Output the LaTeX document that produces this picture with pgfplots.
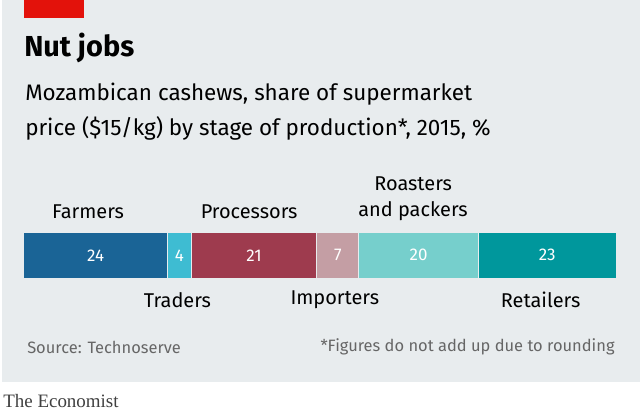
\documentclass[border=0pt]{standalone}
\usepackage{pgfplots}
\pgfplotsset{compat=1.18}
\usepackage{fontspec}
\setmainfont{Fira Sans}
\newfontfamily\serif{Liberation Serif}
\definecolor{bg}{HTML}{E8ECEE}
\definecolor{c1}{HTML}{1A6496}
\definecolor{c2}{HTML}{3EBCD2}
\definecolor{c3}{HTML}{9E3B4E}
\definecolor{c4}{HTML}{C49EA4}
\definecolor{c5}{HTML}{76CFCC}
\definecolor{c6}{HTML}{00979C}
\definecolor{ered}{HTML}{E3120B}
\begin{document}
\begin{tikzpicture}[x=1pt,y=1pt]
\fill[white] (0,0) rectangle (640,418);
\fill[bg] (0,35) rectangle (640,418);
\fill[ered] (22,400) rectangle (82,418);
\node[anchor=west,font=\fontsize{29}{32}\selectfont\bfseries] at (19,370) {Nut jobs};
\node[anchor=west,font=\fontsize{22.5}{26}\selectfont] at (20,324) {Mozambican cashews, share of supermarket};
\node[anchor=west,font=\fontsize{22.5}{26}\selectfont] at (20,289) {price (\$15/kg) by stage of production*, 2015, \%};
\begin{axis}[at={(22pt,139pt)},anchor=south west,width=594pt,height=46pt,scale only axis,
  xbar stacked,bar width=46pt,xmin=0,xmax=99,ymin=-0.5,ymax=0.5,hide axis]
\addplot[fill=c1,draw=bg,line width=1pt] coordinates {(24,0)};
\addplot[fill=c2,draw=bg,line width=1pt] coordinates {(4,0)};
\addplot[fill=c3,draw=bg,line width=1pt] coordinates {(21,0)};
\addplot[fill=c4,draw=bg,line width=1pt] coordinates {(7,0)};
\addplot[fill=c5,draw=bg,line width=1pt] coordinates {(20,0)};
\addplot[fill=c6,draw=bg,line width=1pt] coordinates {(23,0)};
\end{axis}
\begin{scope}[every node/.style={font=\fontsize{17}{20}\selectfont,text=white}]
\node at (94,162) {24};
\node at (178,162) {4};
\node at (253,162) {21};
\node at (337,162) {7};
\node at (418,162) {20};
\node at (547,162) {23};
\end{scope}
\begin{scope}[every node/.style={font=\fontsize{20}{24}\selectfont,anchor=west}]
\node at (47,206) {Farmers};
\node at (196,206) {Processors};
\node at (370,234) {Roasters};
\node at (354,206) {and packers};
\node at (139,117) {Traders};
\node at (286,117) {Importers};
\node at (497,117) {Retailers};
\end{scope}
\node[anchor=west,font=\fontsize{16.5}{20}\selectfont,text=black!60] at (22,70) {Source: Technoserve};
\node[anchor=east,font=\fontsize{16.5}{20}\selectfont,text=black!60] at (618,70) {*Figures do not add up due to rounding};
\node[anchor=west,font=\serif\fontsize{19}{22}\selectfont,text=black!75] at (-2,16) {The Economist};
\end{tikzpicture}
\end{document}
